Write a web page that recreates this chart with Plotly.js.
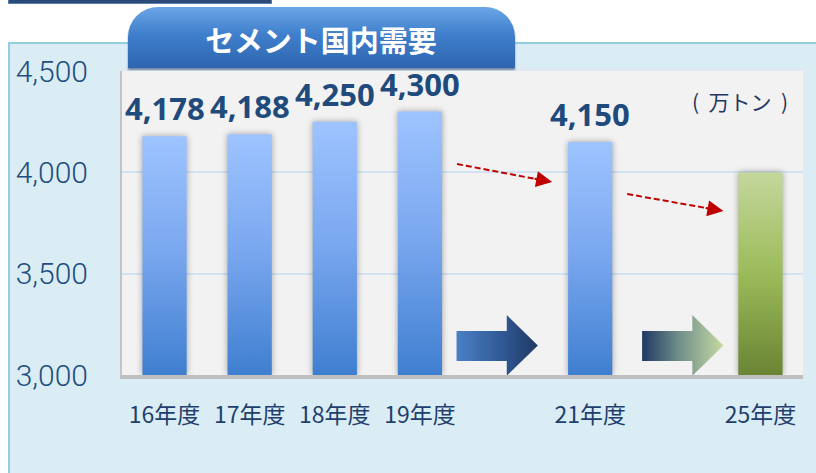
<!DOCTYPE html>
<html>
<head>
<meta charset="utf-8">
<script src="https://cdn.plot.ly/plotly-3.0.1.min.js"></script>
<style>
  html, body { margin: 0; padding: 0; background: #ffffff; }
  #wrap { position: relative; width: 816px; height: 473px; overflow: hidden; background: #ffffff; }
  #navy { position: absolute; left: 8px; top: -4px; width: 264px; height: 8px; background: #2c4a78; border: 1px solid #5a7fb0; box-sizing: border-box; }
  #panel { position: absolute; left: 8px; top: 42px; width: 820px; height: 440px; background: #daedf4; border-top: 2px solid #93cfdf; border-left: 2px solid #93cfdf; box-sizing: border-box; }
  #tab { position: absolute; left: 128px; top: 7px; width: 387px; height: 61px; border-radius: 30px 30px 0 0;
         background: linear-gradient(180deg, #6aa5e6 0%, #3f7fcc 45%, #2e65af 100%);
         box-shadow: 0 2px 2px rgba(20,50,100,0.55); }
  #band { position: absolute; left: 122px; top: 68px; width: 681px; height: 4px; background: #dfe8f3; }
  #chart { position: absolute; left: 0; top: 0; width: 816px; height: 473px; }
</style>
</head>
<body>
<div id="wrap">
  <div id="navy"></div>
  <div id="panel"></div>
  <div id="band"></div>
  <div id="tab"></div>
  <div id="chart"></div>
</div>
<script>
// ---- data ----
const years = ['16年度', '17年度', '18年度', '19年度', '21年度', '25年度'];
const demand = [4178, 4188, 4250, 4300, 4150, 4000];
const isForecast = [false, false, false, false, false, true];
const yTicks = [3000, 3500, 4000, 4500];
const titleText = 'セメント国内需要';
const unitText = '(  万トン  )';

// category order with two empty slots for the transition arrows
const gapA = ' ';
const gapB = '  ';
const categoryOrder = [years[0], years[1], years[2], years[3], gapA, years[4], gapB, years[5]];

const labelColor = '#1f4a7c';

const barTrace = {
  type: 'bar',
  x: years,
  y: demand.map(v => v - yTicks[0]),
  base: yTicks[0],
  width: 0.52,
  marker: { color: isForecast.map(f => f ? '#9bbb59' : '#6fa0e8'), line: { width: 0 } },
  hoverinfo: 'skip',
  showlegend: false
};

// decorative block arrows (overlay linear axis, slot units)
const arrowA = {
  type: 'scatter', xaxis: 'x2', yaxis: 'y', mode: 'lines',
  x: [3.43, 4.02, 4.02, 4.385, 4.02, 4.02, 3.43, 3.43],
  y: [3069, 3069, 2996, 3145, 3296, 3217, 3217, 3069],
  fill: 'toself', line: { width: 0, color: 'rgba(0,0,0,0)' },
  fillgradient: { type: 'horizontal', colorscale: [[0, '#4a80c6'], [0.6, '#2f5690'], [1, '#1f3864']] },
  hoverinfo: 'skip', showlegend: false
};
const arrowB = {
  type: 'scatter', xaxis: 'x2', yaxis: 'y', mode: 'lines',
  x: [5.61, 6.2, 6.2, 6.565, 6.2, 6.2, 5.61, 5.61],
  y: [3069, 3069, 2996, 3145, 3296, 3217, 3217, 3069],
  fill: 'toself', line: { width: 0, color: 'rgba(0,0,0,0)' },
  fillgradient: { type: 'horizontal', colorscale: [[0, '#1f3864'], [0.45, '#6f8e8a'], [1, '#c6daa2']] },
  hoverinfo: 'skip', showlegend: false
};

const annotations = [];
years.forEach((yr, i) => {
  if (isForecast[i]) return;
  annotations.push({
    x: yr, y: demand[i], xref: 'x', yref: 'y',
    text: demand[i].toLocaleString('en-US'),
    showarrow: false, yanchor: 'bottom', xanchor: 'center', yshift: 5,
    font: { family: 'Open Sans, Liberation Sans, sans-serif', size: 31, weight: 700, color: labelColor }
  });
});
// unit label
annotations.push({
  x: 0.9075, y: 0.90, xref: 'paper', yref: 'paper', text: unitText, showarrow: false,
  xanchor: 'center', yanchor: 'middle',
  font: { family: 'Noto Sans CJK JP, sans-serif', size: 21, color: '#1f3864' }
});
// red dashed trend arrows
const redArrows = [
  { x0: 3.435, y0: 4041, x1: 4.553, y1: 3952 },
  { x0: 5.435, y0: 3893, x1: 6.565, y1: 3809 }
];
const shapes = [];
redArrows.forEach(a => {
  shapes.push({
    type: 'line', xref: 'x2', yref: 'y', x0: a.x0, y0: a.y0,
    x1: a.x0 + (a.x1 - a.x0) * 0.86, y1: a.y0 + (a.y1 - a.y0) * 0.86,
    line: { color: '#c00000', width: 2, dash: '6px,3px' }
  });
  annotations.push({
    x: a.x1, y: a.y1, xref: 'x2', yref: 'y',
    ax: a.x0 + (a.x1 - a.x0) * 0.80, ay: a.y0 + (a.y1 - a.y0) * 0.80, axref: 'x2', ayref: 'y',
    showarrow: true, arrowhead: 2, arrowsize: 1.6, arrowwidth: 2, arrowcolor: '#c00000', text: '',
    standoff: 0
  });
});

const layout = {
  width: 816, height: 473,
  margin: { l: 122, r: 13, t: 71, b: 98, pad: 0 },
  paper_bgcolor: 'rgba(0,0,0,0)',
  plot_bgcolor: '#f2f2f2',
  showlegend: false,
  title: {
    text: titleText, xref: 'container', yref: 'container', x: 0.3934, y: 0.911,
    xanchor: 'center', yanchor: 'middle',
    font: { family: 'Noto Sans CJK JP, sans-serif', size: 29, weight: 700, color: '#ffffff' }
  },
  xaxis: {
    type: 'category', categoryorder: 'array', categoryarray: categoryOrder,
    range: [-0.5, 7.5], fixedrange: true,
    tickvals: years, ticktext: years,
    showgrid: false, zeroline: false,
    showline: true, linecolor: '#bfbfbf', linewidth: 4,
    ticks: '', ticklabelstandoff: 16,
    tickfont: { family: 'Noto Sans CJK JP, sans-serif', size: 23, color: '#1f3f6e' }
  },
  xaxis2: {
    type: 'linear', overlaying: 'x', range: [-0.5, 7.5], visible: false, fixedrange: true
  },
  yaxis: {
    range: [3000, 4500], tickvals: yTicks, tickformat: ',',
    showgrid: true, gridcolor: '#d2e2f1', gridwidth: 2,
    zeroline: false, showline: true, linecolor: '#c4c4c4', linewidth: 2,
    ticks: '', ticklabelstandoff: 26, fixedrange: true,
    tickfont: { family: 'Roboto, sans-serif', size: 30, weight: 300, color: '#1f4e80' }
  },
  shapes: shapes,
  annotations: annotations,
  bargap: 0.48
};

Plotly.newPlot('chart', [barTrace, arrowA, arrowB], layout, { displayModeBar: false, staticPlot: true }).then(gd => {
  const svg = gd.querySelector('svg.main-svg');
  const NS = 'http://www.w3.org/2000/svg';
  let defs = svg.querySelector('defs');
  if (!defs) { defs = document.createElementNS(NS, 'defs'); svg.insertBefore(defs, svg.firstChild); }
  function grad(id, stops) {
    const g = document.createElementNS(NS, 'linearGradient');
    g.setAttribute('id', id);
    g.setAttribute('x1', '0'); g.setAttribute('y1', '0'); g.setAttribute('x2', '0'); g.setAttribute('y2', '1');
    stops.forEach(s => {
      const st = document.createElementNS(NS, 'stop');
      st.setAttribute('offset', s[0]); st.setAttribute('stop-color', s[1]);
      g.appendChild(st);
    });
    defs.appendChild(g);
  }
  grad('gBlue', [['0', '#9ec4ff'], ['0.5', '#78a6ee'], ['1', '#3f7fd0']]);
  grad('gGreen', [['0', '#c4d79c'], ['0.5', '#9bbb59'], ['1', '#6a8434']]);
  const paths = gd.querySelectorAll('.barlayer .trace .points .point path');
  paths.forEach((p, i) => {
    p.style.fill = isForecast[i] ? 'url(#gGreen)' : 'url(#gBlue)';
    p.style.filter = 'drop-shadow(0px 0px 3px rgba(0,0,0,0.35))';
  });
});
</script>
</body>
</html>
